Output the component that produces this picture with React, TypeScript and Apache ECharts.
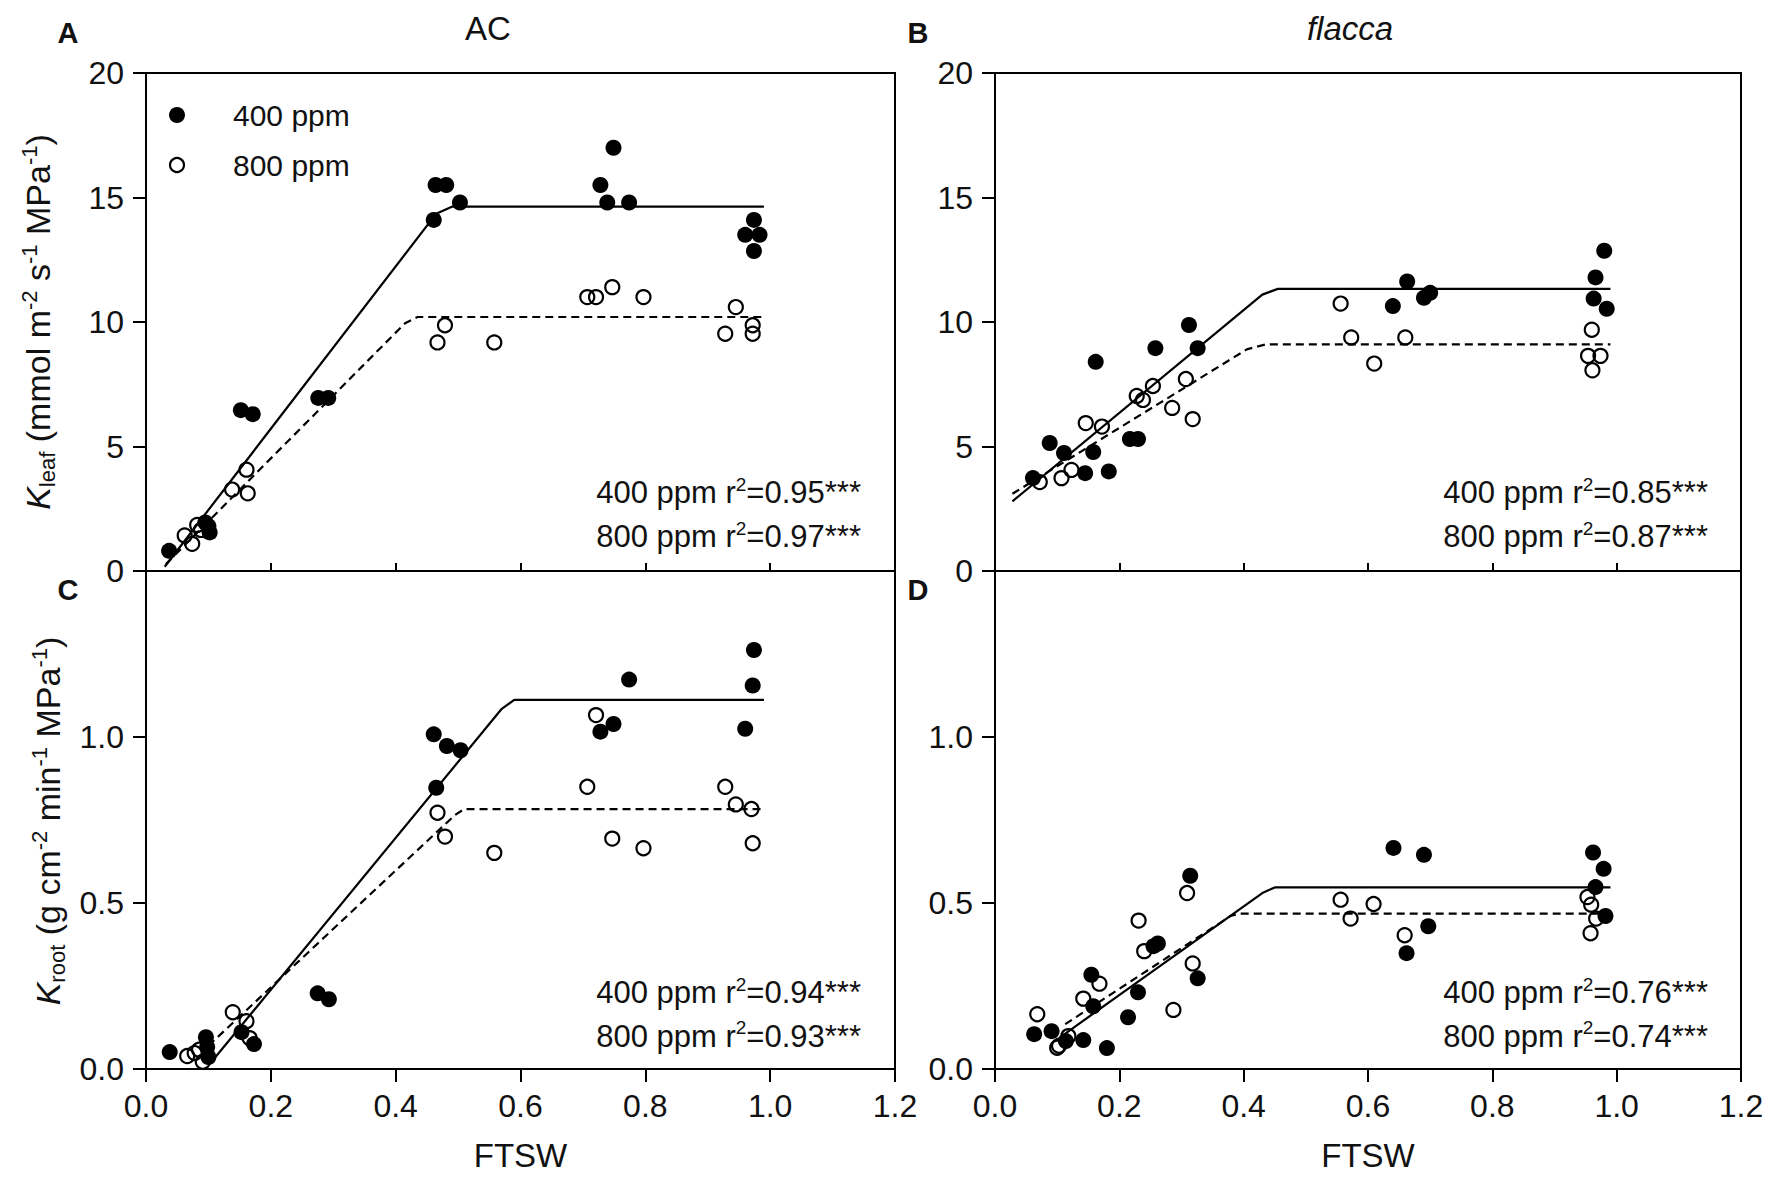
import React, { useEffect, useRef } from 'react';
import * as echarts from 'echarts';

const FONT = '"Liberation Sans", Arial, Helvetica, sans-serif';
const INK = '#111';

// ---------- data: [FTSW, value] ----------
// Panel A: AC, K_leaf
const acLeaf400 = [
  [0.037, 0.81], [0.095, 1.95], [0.1, 1.8], [0.102, 1.55], [0.152, 6.46], [0.171, 6.3],
  [0.276, 6.95], [0.292, 6.95], [0.461, 14.1], [0.464, 15.5], [0.481, 15.5], [0.503, 14.8],
  [0.728, 15.5], [0.749, 17.0], [0.739, 14.8], [0.774, 14.8], [0.974, 14.1], [0.96, 13.5],
  [0.983, 13.5], [0.974, 12.85],
];
const acLeaf800 = [
  [0.062, 1.43], [0.074, 1.09], [0.082, 1.85], [0.088, 1.65], [0.138, 3.27], [0.161, 4.07],
  [0.163, 3.12], [0.467, 9.18], [0.479, 9.87], [0.558, 9.18], [0.707, 11.0], [0.721, 11.0],
  [0.747, 11.4], [0.797, 11.0], [0.945, 10.6], [0.928, 9.53], [0.972, 9.87], [0.972, 9.53],
];
const acLeafFit400 = [[0.03, 0.17], [0.465, 14.35], [0.49, 14.63], [0.99, 14.63]];
const acLeafFit800 = [[0.032, 0.28], [0.415, 9.95], [0.435, 10.2], [0.99, 10.2]];

// Panel B: flacca, K_leaf
const flLeaf400 = [
  [0.061, 3.73], [0.088, 5.14], [0.111, 4.74], [0.145, 3.93], [0.158, 4.78], [0.162, 8.4],
  [0.183, 4.0], [0.217, 5.3], [0.23, 5.3], [0.258, 8.95], [0.312, 9.88], [0.326, 8.95],
  [0.64, 10.64], [0.663, 11.63], [0.69, 10.97], [0.7, 11.17], [0.98, 12.86], [0.966, 11.79],
  [0.963, 10.94], [0.984, 10.53],
];
const flLeaf800 = [
  [0.072, 3.57], [0.107, 3.73], [0.123, 4.06], [0.146, 5.94], [0.172, 5.8], [0.228, 7.03],
  [0.238, 6.87], [0.254, 7.43], [0.285, 6.55], [0.307, 7.71], [0.318, 6.1], [0.556, 10.74],
  [0.573, 9.38], [0.61, 8.33], [0.66, 9.38], [0.96, 9.69], [0.954, 8.64], [0.974, 8.64],
  [0.961, 8.06],
];
const flLeafFit400 = [[0.028, 2.8], [0.43, 11.1], [0.455, 11.33], [0.99, 11.33]];
const flLeafFit800 = [[0.028, 3.1], [0.405, 8.9], [0.435, 9.1], [0.99, 9.1]];

// Panel C: AC, K_root
const acRoot400 = [
  [0.038, 0.051], [0.096, 0.096], [0.098, 0.066], [0.1, 0.036], [0.153, 0.111], [0.173, 0.075],
  [0.275, 0.228], [0.293, 0.21], [0.461, 1.008], [0.465, 0.847], [0.482, 0.973], [0.504, 0.96],
  [0.728, 1.016], [0.749, 1.039], [0.774, 1.173], [0.974, 1.262], [0.972, 1.155], [0.96, 1.025],
];
const acRoot800 = [
  [0.066, 0.039], [0.078, 0.048], [0.085, 0.058], [0.091, 0.022], [0.139, 0.171], [0.161, 0.144],
  [0.166, 0.093], [0.467, 0.772], [0.479, 0.7], [0.558, 0.651], [0.707, 0.85], [0.721, 1.066],
  [0.747, 0.694], [0.797, 0.665], [0.928, 0.85], [0.945, 0.797], [0.97, 0.783], [0.972, 0.68],
];
const acRootFit400 = [[0.11, 0.033], [0.57, 1.085], [0.59, 1.112], [0.99, 1.112]];
const acRootFit800 = [[0.1, 0.07], [0.495, 0.765], [0.51, 0.783], [0.99, 0.783]];

// Panel D: flacca, K_root
const flRoot400 = [
  [0.063, 0.105], [0.091, 0.114], [0.114, 0.084], [0.142, 0.087], [0.155, 0.284], [0.158, 0.189],
  [0.18, 0.063], [0.214, 0.156], [0.23, 0.231], [0.255, 0.37], [0.262, 0.378], [0.314, 0.582],
  [0.326, 0.273], [0.641, 0.666], [0.662, 0.349], [0.69, 0.645], [0.697, 0.43], [0.962, 0.652],
  [0.979, 0.603], [0.966, 0.548], [0.982, 0.461],
];
const flRoot800 = [
  [0.068, 0.165], [0.1, 0.064], [0.103, 0.07], [0.118, 0.099], [0.142, 0.212], [0.168, 0.257],
  [0.231, 0.447], [0.24, 0.355], [0.287, 0.178], [0.309, 0.53], [0.318, 0.318], [0.556, 0.51],
  [0.572, 0.453], [0.609, 0.497], [0.659, 0.403], [0.953, 0.518], [0.959, 0.495], [0.967, 0.453],
  [0.958, 0.409],
];
const flRootFit400 = [[0.108, 0.1], [0.43, 0.53], [0.45, 0.547], [0.99, 0.547]];
const flRootFit800 = [[0.113, 0.135], [0.38, 0.462], [0.395, 0.468], [0.99, 0.468]];

const panelTitles = ['AC', 'flacca'];
const panelLetters = ['A', 'B', 'C', 'D'];
const seriesNames = ['400 ppm', '800 ppm'];
const r2Values = [
  ['0.95', '0.97'],
  ['0.85', '0.87'],
  ['0.94', '0.93'],
  ['0.76', '0.74'],
];

const panels = [
  { s400: acLeaf400, s800: acLeaf800, f400: acLeafFit400, f800: acLeafFit800 },
  { s400: flLeaf400, s800: flLeaf800, f400: flLeafFit400, f800: flLeafFit800 },
  { s400: acRoot400, s800: acRoot800, f400: acRootFit400, f800: acRootFit800 },
  { s400: flRoot400, s800: flRoot800, f400: flRootFit400, f800: flRootFit800 },
];

function buildOption() {
  const grids = [
    { left: 146, top: 73, width: 749, height: 498 },
    { left: 995, top: 73, width: 746, height: 498 },
    { left: 146, top: 571, width: 749, height: 498 },
    { left: 995, top: 571, width: 746, height: 498 },
  ].map((g) => ({ ...g, show: true, borderColor: '#000', borderWidth: 2, backgroundColor: 'transparent' }));

  const axisLine = { show: true, onZero: false, lineStyle: { color: '#000', width: 2 } };
  const labelStyle = { fontSize: 32, color: INK, fontFamily: FONT };

  const xAxes = [0, 1, 2, 3].map((i) => {
    const bottom = i >= 2;
    return {
      type: 'value',
      gridIndex: i,
      min: 0,
      max: 1.2,
      interval: 0.2,
      axisLine,
      axisTick: bottom
        ? { show: true, inside: false, length: 13, lineStyle: { color: '#000', width: 2 } }
        : { show: true, inside: true, length: 8, lineStyle: { color: '#000', width: 2 } },
      axisLabel: bottom
        ? { show: true, margin: 21, ...labelStyle, formatter: (v: number) => v.toFixed(1) }
        : { show: false },
      splitLine: { show: false },
      name: bottom ? 'FTSW' : '',
      nameLocation: 'middle',
      nameGap: 70,
      nameTextStyle: { fontSize: 33, color: INK, fontFamily: FONT },
    };
  });

  const yAxes = [0, 1, 2, 3].map((i) => {
    const root = i >= 2;
    return {
      type: 'value',
      gridIndex: i,
      min: 0,
      max: root ? 1.5 : 20,
      interval: root ? 0.5 : 5,
      axisLine,
      axisTick: { show: true, inside: false, length: 13, lineStyle: { color: '#000', width: 2 } },
      axisLabel: {
        show: true,
        margin: 22,
        ...labelStyle,
        formatter: root ? (v: number) => (v >= 1.49 ? '' : v.toFixed(1)) : (v: number) => String(v),
      },
      splitLine: { show: false },
    };
  });

  const series: any[] = [];
  panels.forEach((p, i) => {
    series.push({
      name: '400 ppm fit', type: 'line', xAxisIndex: i, yAxisIndex: i, data: p.f400,
      showSymbol: false, symbol: 'none', silent: true, z: 2,
      lineStyle: { color: '#000', width: 2.2, type: 'solid' },
    });
    series.push({
      name: '800 ppm fit', type: 'line', xAxisIndex: i, yAxisIndex: i, data: p.f800,
      showSymbol: false, symbol: 'none', silent: true, z: 2,
      lineStyle: { color: '#000', width: 2.2, type: [8, 5] },
    });
    series.push({
      name: seriesNames[0], type: 'scatter', xAxisIndex: i, yAxisIndex: i, data: p.s400,
      symbol: 'circle', symbolSize: 16, z: 3,
      itemStyle: { color: '#000', borderWidth: 0, opacity: 1 },
    });
    series.push({
      name: seriesNames[1], type: 'scatter', xAxisIndex: i, yAxisIndex: i, data: p.s800,
      symbol: 'circle', symbolSize: 14, z: 4,
      itemStyle: { color: 'rgba(0,0,0,0)', borderColor: '#000', borderWidth: 2.2, opacity: 1 },
    });
  });

  const txt = (x: number, y: number, text: string, extra: any = {}) => ({
    type: 'text', x, y, silent: true,
    style: { text, fill: INK, fontFamily: FONT, align: 'center', verticalAlign: 'middle', ...extra },
  });

  const yRich = {
    k: { fontSize: 34, fontStyle: 'italic', fontFamily: FONT, fill: INK, lineHeight: 40 },
    n: { fontSize: 34, fontFamily: FONT, fill: INK, lineHeight: 40 },
    sub: { fontSize: 22, fontFamily: FONT, fill: INK, lineHeight: 22, verticalAlign: 'bottom' },
    sup: { fontSize: 22, fontFamily: FONT, fill: INK, lineHeight: 22, verticalAlign: 'top' },
  };
  const r2Rich = {
    n: { fontSize: 31, fontFamily: FONT, fill: INK, lineHeight: 36 },
    sup: { fontSize: 19, fontFamily: FONT, fill: INK, lineHeight: 19, verticalAlign: 'top' },
  };

  const elements: any[] = [
    txt(68, 33, panelLetters[0], { fontSize: 29, fontWeight: 'bold' }),
    txt(918, 33, panelLetters[1], { fontSize: 29, fontWeight: 'bold' }),
    txt(68, 590, panelLetters[2], { fontSize: 29, fontWeight: 'bold' }),
    txt(918, 590, panelLetters[3], { fontSize: 29, fontWeight: 'bold' }),
    txt(488, 28, panelTitles[0], { fontSize: 33 }),
    txt(1350, 28, panelTitles[1], { fontSize: 33, fontStyle: 'italic' }),
    // legend (panel A)
    { type: 'circle', silent: true, shape: { cx: 177, cy: 115, r: 8 }, style: { fill: '#000' } },
    { type: 'circle', silent: true, shape: { cx: 177, cy: 165, r: 7 },
      style: { fill: 'none', stroke: '#000', lineWidth: 2.2 } },
    txt(233, 115, seriesNames[0], { fontSize: 30, align: 'left' }),
    txt(233, 165, seriesNames[1], { fontSize: 30, align: 'left' }),
    {
      type: 'text', x: 38, y: 322, rotation: Math.PI / 2, silent: true,
      style: {
        text: '{k|K}{sub|leaf}{n| (mmol m}{sup|-2}{n| s}{sup|-1}{n| MPa}{sup|-1}{n|)}',
        rich: yRich, align: 'center', verticalAlign: 'middle', fill: INK,
      },
    },
    {
      type: 'text', x: 48, y: 821, rotation: Math.PI / 2, silent: true,
      style: {
        text: '{k|K}{sub|root}{n| (g cm}{sup|-2}{n| min}{sup|-1}{n| MPa}{sup|-1}{n|)}',
        rich: yRich, align: 'center', verticalAlign: 'middle', fill: INK,
      },
    },
  ];

  const r2Pos = [
    { x: 861, y1: 492.5, y2: 536.5 },
    { x: 1708, y1: 492.5, y2: 536.5 },
    { x: 861, y1: 992.5, y2: 1036 },
    { x: 1708, y1: 992.5, y2: 1036 },
  ];
  r2Pos.forEach((p, i) => {
    [p.y1, p.y2].forEach((y, j) => {
      elements.push({
        type: 'text', x: p.x, y, silent: true,
        style: {
          text: `{n|${seriesNames[j]} r}{sup|2}{n|=${r2Values[i][j]}***}`,
          rich: r2Rich, align: 'right', verticalAlign: 'middle', fill: INK,
        },
      });
    });
  });

  return {
    animation: false,
    backgroundColor: '#fff',
    textStyle: { fontFamily: FONT },
    grid: grids,
    xAxis: xAxes,
    yAxis: yAxes,
    series,
    graphic: { elements },
  };
}

export default function App() {
  const ref = useRef<HTMLDivElement>(null);
  useEffect(() => {
    if (!ref.current) return;
    const chart = echarts.init(ref.current, null, { renderer: 'svg' });
    chart.setOption(buildOption() as any);
    return () => chart.dispose();
  }, []);
  return (
    <div
      ref={ref}
      style={{ position: 'absolute', left: 0, top: 0, width: '1775px', height: '1179px', background: '#fff' }}
    />
  );
}
